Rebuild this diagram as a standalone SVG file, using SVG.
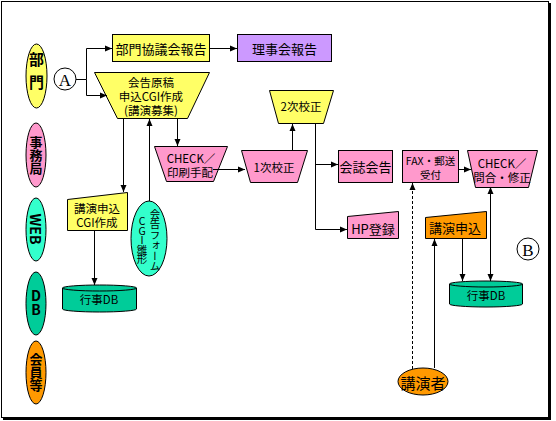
<svg xmlns="http://www.w3.org/2000/svg" width="556" height="421" viewBox="0 0 556 421">
<defs>
<marker id="ar" markerWidth="8" markerHeight="8" refX="7" refY="4" orient="auto" markerUnits="userSpaceOnUse">
<path d="M0,1 L7,4 L0,7 Z" fill="#000"/>
</marker>
<marker id="as" markerWidth="8" markerHeight="8" refX="1" refY="4" orient="auto" markerUnits="userSpaceOnUse">
<path d="M7,1 L0,4 L7,7 Z" fill="#000"/>
</marker>
<style>
.s{stroke:#000;stroke-width:1}
.y{fill:#FFFF66}
.p{fill:#FF99CC}
.v{fill:#CC99FF}
.c{fill:#33FFCC}
.g{fill:#00CC99}
.o{fill:#FF9900}
text{font-family:"Noto Sans CJK JP","Noto Sans",sans-serif;fill:#000;text-anchor:middle;dominant-baseline:central}
.vt{writing-mode:vertical-rl;dominant-baseline:auto}
.up{text-orientation:upright}
.lb{font-size:14px;font-weight:bold}
.t14{font-size:13px}
.t12{font-size:11.5px}
.t11{font-size:10.5px}
.cn{fill:none;stroke:#000;stroke-width:1}
</style>
</defs>
<rect x="0" y="0" width="556" height="421" fill="#fff"/>
<rect x="1.5" y="1.5" width="547" height="416" fill="none" stroke="#000" stroke-width="1"/>
<path d="M550,3 V419 H3" fill="none" stroke="#000" stroke-width="2"/>

<g id="lane-bumon"><ellipse class="s y" cx="36.5" cy="76" rx="10.5" ry="32"/><text class="lb vt" x="36.5" y="75" style="font-size:15px;letter-spacing:8px">部門</text></g>
<g id="lane-jimukyoku"><ellipse class="s p" cx="36" cy="155" rx="10" ry="32"/><text class="lb vt" x="36" y="155" style="font-size:13px">事務局</text></g>
<g id="lane-web"><ellipse class="s c" cx="36" cy="229.5" rx="10" ry="31.5"/><text class="lb vt" x="36" y="229">WEB</text></g>
<g id="lane-db"><ellipse class="s g" cx="36" cy="303.5" rx="10" ry="31.5"/><text class="lb vt up" x="36" y="303">DB</text></g>
<g id="lane-kaiin"><ellipse class="s o" cx="36" cy="372.5" rx="10" ry="31.5"/><text class="lb vt" x="36" y="372" style="font-size:13px">会員等</text></g>

<g id="markA"><circle cx="65" cy="79" r="11" fill="#fff" stroke="#000"/><text x="65" y="80" style="font-family:'Liberation Serif',serif;font-size:17px">A</text></g>
<g id="markB"><circle cx="528" cy="249" r="11" fill="#fff" stroke="#000"/><text x="528" y="250" style="font-family:'Liberation Serif',serif;font-size:17px">B</text></g>

<g id="bumon-kyogikai"><rect class="s y" x="112.5" y="34.5" width="97" height="27"/><text class="t14" x="161" y="48">部門協議会報告</text></g>
<g id="rijikai"><rect class="s v" x="237.5" y="34.5" width="94" height="27"/><text class="t14" x="284.5" y="48">理事会報告</text></g>

<g id="kaikoku-genko"><path class="s y" d="M94.5,72.5 H209.5 L187.5,118.5 H117.5 Z"/><text class="t12" x="151" y="82"><tspan x="151" y="82">会告原稿</tspan><tspan x="151" y="96">申込CGI作成</tspan><tspan x="151" y="110">(講演募集)</tspan></text></g>

<g id="check-insatsu"><path class="s p" d="M154.5,146.5 H227.5 L213.5,181.5 H166.5 Z"/><text class="t12"><tspan x="191" y="158">CHECK／</tspan><tspan x="190" y="172">印刷手配</tspan></text></g>
<g id="kosei1"><path class="s p" d="M241.5,150.5 H307.5 L297.5,182.5 H250.5 Z"/><text class="t12" x="274" y="167">1次校正</text></g>
<g id="kosei2"><path class="s y" d="M269.5,90.5 H333.5 L323.5,123.5 H278.5 Z"/><text class="t12" x="301" y="106">2次校正</text></g>
<g id="kaishi"><rect class="s p" x="338.5" y="150.5" width="54" height="32"/><text class="t14" x="365.5" y="166">会誌会告</text></g>
<g id="hp"><path class="s p" d="M347.5,216.5 L398.5,211.5 V238.5 H347.5 Z"/><text class="t14" x="373" y="228">HP登録</text></g>

<g id="koen-cgi"><path class="s y" d="M67.5,199.5 L127.5,192.5 V230.5 H67.5 Z"/><text class="t12"><tspan x="97" y="208">講演申込</tspan><tspan x="97" y="222">CGI作成</tspan></text></g>
<g id="form-cgi"><ellipse class="s c" cx="149" cy="238.5" rx="18" ry="37.5"/>
<text class="t11 vt" x="155" y="240">会告フォーム</text>
<text class="t11 vt up" x="142" y="240" style="letter-spacing:-1px">CGI雛形</text></g>
<g id="db-left"><path class="s g" d="M62.5,288 A37,3 0 0,1 136.5,288 V309 A37,3 0 0,1 62.5,309 Z"/><path class="cn" d="M62.5,288 A37,3 0 0,0 136.5,288"/><text class="t12" x="99" y="299">行事DB</text></g>

<g id="fax"><rect class="s p" x="402.5" y="150.5" width="56" height="32"/><text class="t11"><tspan x="430.5" y="160">FAX・郵送</tspan><tspan x="430.5" y="174">受付</tspan></text></g>
<g id="check-toi"><path class="s p" d="M467.5,150.5 H537.5 L528.5,187.5 H475.5 Z"/><text class="t12"><tspan x="502" y="163">CHECK／</tspan><tspan x="502" y="177">問合・修正</tspan></text></g>
<g id="koen-moushikomi"><path class="s o" d="M425.5,217.5 L486.5,211.5 V238.5 H425.5 Z"/><text class="t14" x="455" y="227">講演申込</text></g>
<g id="db-right"><path class="s g" d="M449.5,284 A36.5,3 0 0,1 522.5,284 V304 A36.5,3 0 0,1 449.5,304 Z"/><path class="cn" d="M449.5,284 A36.5,3 0 0,0 522.5,284"/><text class="t12" x="486" y="295">行事DB</text></g>
<g id="koensha"><ellipse class="s o" cx="423" cy="381.5" rx="25" ry="13.5"/><text x="423" y="382" style="font-size:15px">講演者</text></g>

<g id="connectors">
<path class="cn" d="M76,79.5 H86.5 V48.5 H112" marker-end="url(#ar)"/>
<path class="cn" d="M86.5,79.5 V95.5 H107" marker-end="url(#ar)"/>
<path class="cn" d="M209.5,48.5 H237" marker-end="url(#ar)"/>
<path class="cn" d="M123.5,118.5 V192" marker-end="url(#ar)"/>
<path class="cn" d="M149.5,201 V119" marker-end="url(#ar)"/>
<path class="cn" d="M177.5,118.5 V146" marker-end="url(#ar)"/>
<path class="cn" d="M213,169.5 H245" marker-end="url(#ar)"/>
<path class="cn" d="M292.5,150.5 V124" marker-end="url(#ar)"/>
<path class="cn" d="M315.5,123.5 V229.5 H347" marker-end="url(#ar)"/>
<path class="cn" d="M315.5,164.5 H338" marker-end="url(#ar)"/>
<path class="cn" d="M94.5,230.5 V285" marker-end="url(#ar)"/>
<path class="cn" d="M458.5,169.5 H471" marker-end="url(#ar)"/>
<path class="cn" d="M412.5,369 V183" stroke-dasharray="3,2" marker-end="url(#ar)"/>
<path class="cn" d="M434.5,368 V239" marker-end="url(#ar)"/>
<path class="cn" d="M462.5,238.5 V281" marker-end="url(#ar)"/>
<path class="cn" d="M490.5,188 V281" marker-start="url(#as)" marker-end="url(#ar)"/>
</g>
</svg>
